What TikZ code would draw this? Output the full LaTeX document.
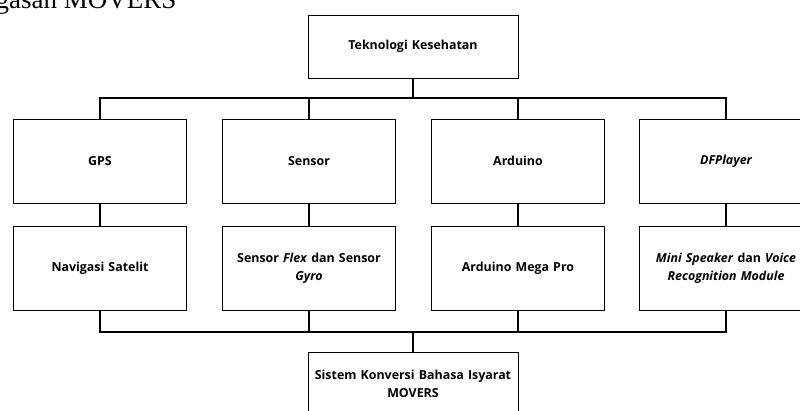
\documentclass[tikz,border=0pt]{standalone}
\usepackage{fontspec}
\setmainfont{Open Sans}
\newfontfamily\captfont{Liberation Serif}
\usetikzlibrary{shadows}

\begin{document}
\begin{tikzpicture}[x=1pt,y=-1pt,
    box/.style={draw=black, line width=0.6pt, fill=white, minimum height=84pt, minimum width=173pt,
      text width=165pt, align=center, font=\fontsize{12.4}{18}\selectfont\bfseries,
      drop shadow={shadow xshift=0.7pt, shadow yshift=-0.7pt, fill=black!45, opacity=1}},
    wide/.style={box, minimum width=210pt, minimum height=63pt, text width=200pt},
    link/.style={line width=1.1pt}]
    \useasboundingbox (0,0) rectangle (800,410);
    \node[anchor=base west, font=\captfont\fontsize{27}{27}\selectfont] (capt) at (-8,8) {gasan MOVERS};
    % top and bottom
    \node[wide] (tek) at (413,46.5) {Teknologi Kesehatan};
    \node[wide] (sis) at (413,383.5) {Sistem Konversi Bahasa Isyarat\\MOVERS};
    % first row
    \node[box] (gps) at (100,161) {GPS};
    \node[box] (sen) at (309,161) {Sensor};
    \node[box] (ard) at (518,161) {Arduino};
    \node[box] (dfp) at (726,161) {\itshape DFPlayer};
    % second row
    \node[box] (nav) at (100,268) {Navigasi Satelit};
    \node[box] (flx) at (309,268) {Sensor \textit{Flex} dan Sensor\\\textit{Gyro}};
    \node[box] (mega) at (518,268) {Arduino Mega Pro};
    \node[box] (spk) at (726,268) {\textit{Mini Speaker} dan \textit{Voice}\\\textit{Recognition Module}};
    \coordinate (bus1) at (413,98);
    \coordinate (bus2) at (413,332);
    \draw[link] (tek) -- (bus1);
    \foreach \n in {gps,sen,ard,dfp}
        \draw[link] (\n.north) |- (bus1);
    \foreach \a/\b in {gps/nav,sen/flx,ard/mega,dfp/spk}
        \draw[link] (\a) -- (\b);
    \foreach \n in {nav,flx,mega,spk}
        \draw[link] (\n.south) |- (bus2);
    \draw[link] (bus2) -- (sis);
\end{tikzpicture}
\end{document}
